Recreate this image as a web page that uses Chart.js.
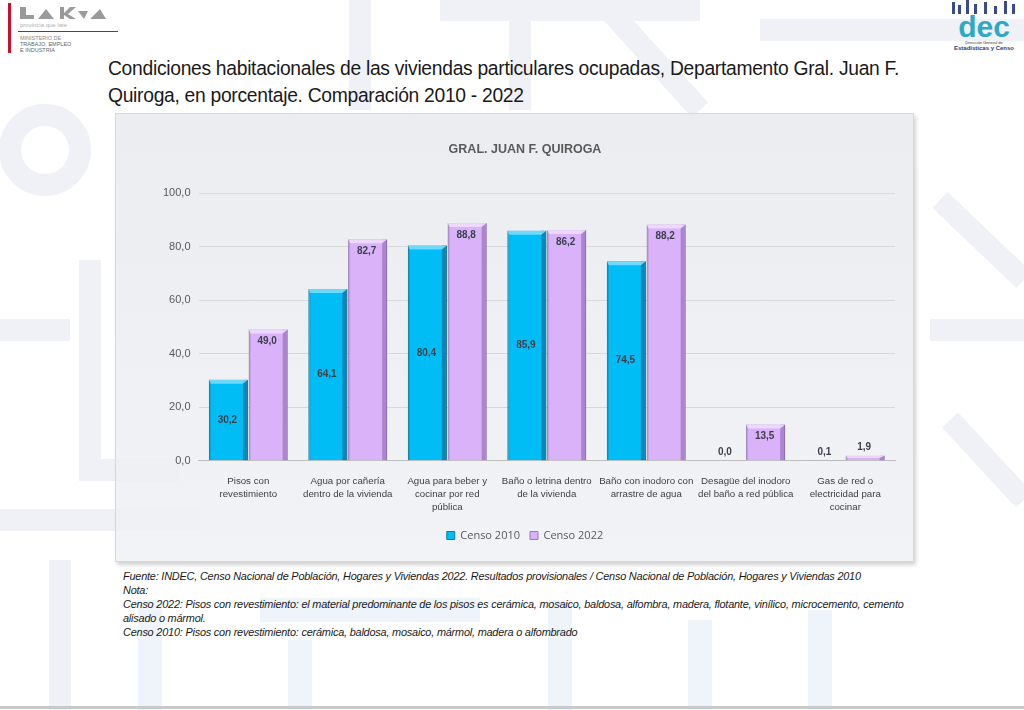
<!DOCTYPE html>
<html>
<head>
<meta charset="utf-8">
<script src="https://cdn.jsdelivr.net/npm/chart.js@4"></script>
<style>
  html, body { margin:0; padding:0; }
  body { width:1024px; height:710px; position:relative; overflow:hidden; background:#fff; font-family:"Liberation Sans", Arial, sans-serif; }
  #wm { position:absolute; left:0; top:0; }
  .title { position:absolute; left:108px; top:55px; font-size:19.3px; line-height:27px; color:#1a1a1a; letter-spacing:-0.3px; }
  #box { position:absolute; left:115px; top:113px; width:797px; height:447px;
         background:linear-gradient(180deg, rgba(232,234,238,0.88), rgba(240,241,244,0.88));
         border:1px solid #d6d8dc; box-shadow:2px 3px 4px rgba(0,0,0,0.18); }
  #box canvas { position:absolute; left:0; top:0; }
  .notes { position:absolute; left:123px; top:569px; font-size:10.9px; line-height:14px; font-style:italic; color:#1a1a1a; letter-spacing:-0.2px; }
  .logoL { position:absolute; left:8px; top:3px; }
  .logoR { position:absolute; left:944px; top:0px; text-align:center; }
  .bottomline { position:absolute; left:0; top:706px; width:1024px; height:3px; background:#c9c9c9; }
</style>
</head>
<body>
<svg id="wm" width="1024" height="710">
  <g fill="none" stroke="#f0f0f7" stroke-width="22">
    <circle cx="45" cy="150" r="35"/>
    <path d="M0 330 H70 M90 260 V470 H180 M0 520 H200 M60 560 V710"/>
    <path d="M360 0 V110 M520 0 V110 M440 10 H700"/>
    <path d="M600 0 L700 110 M760 30 L1024 30 M940 200 L1024 280"/>
    <path d="M930 330 H1024 M950 420 L1024 500"/>
  </g>
  <g fill="none" stroke="#eef4fa" stroke-width="24">
    <path d="M150 600 V710 M260 610 H480 M300 640 V710 M560 600 V710 M700 620 V710 M820 610 V710"/>
  </g>
</svg>

<div class="logoL">
  <svg width="120" height="52">
    <rect x="0" y="0" width="3" height="50" fill="#c8102e"/>
    <path d="M12 4 L18 4 L18 12 L26 12 L26 16 L12 16 Z" fill="#9a9a9a"/>
    <path d="M30 16 L38 6 L46 16 Z" fill="#9a9a9a"/>
    <path d="M52 4 L56 4 L56 10 L62 4 L68 4 L60 11 L68 16 L62 16 L56 12 L56 16 L52 16 Z" fill="#9a9a9a"/>
    <path d="M70 8 L80 8 L76 16 Z M82 16 L92 6 L98 16 Z" fill="#9a9a9a"/>
    <text x="12" y="24" font-size="6" fill="#b0b0b0">provincia que late</text>
    <rect x="10" y="28" width="100" height="1" fill="#c8102e"/>
    <text x="12" y="37" font-size="5.5" fill="#888">MINISTERIO DE</text>
    <text x="12" y="43" font-size="5.5" fill="#666">TRABAJO, EMPLEO</text>
    <text x="12" y="49" font-size="5.5" fill="#666">E INDUSTRIA</text>
  </svg>
</div>
<div class="logoR">
  <svg width="80" height="54">
    <g fill="#3a4a8a">
      <rect x="8" y="2" width="3" height="12"/><rect x="14" y="5" width="3" height="9"/>
      <rect x="22" y="0" width="3" height="14"/><rect x="30" y="4" width="3" height="10"/>
      <rect x="40" y="2" width="3" height="12"/><rect x="50" y="6" width="3" height="8"/>
      <rect x="60" y="1" width="3" height="13"/><rect x="68" y="4" width="3" height="10"/>
    </g>
    <text x="40" y="37" font-size="30" font-weight="bold" text-anchor="middle" fill="#2fa8c8" font-family="Liberation Sans">dec</text>
    <text x="40" y="44" font-size="4" text-anchor="middle" fill="#333">Dirección General de</text>
    <text x="40" y="50" font-size="6" font-weight="bold" text-anchor="middle" fill="#2d3a7a">Estadísticas y Censo</text>
  </svg>
</div>

<div class="title">Condiciones habitacionales de las viviendas particulares ocupadas, Departamento Gral. Juan F.<br>Quiroga, en porcentaje. Comparación 2010 - 2022</div>

<div id="box"><canvas id="chart" width="797" height="447"></canvas></div>

<div class="notes">
Fuente: INDEC, Censo Nacional de Población, Hogares y Viviendas 2022. Resultados provisionales / Censo Nacional de Población, Hogares y Viviendas 2010<br>
Nota:<br>
Censo 2022: Pisos con revestimiento: el material predominante de los pisos es cerámica, mosaico, baldosa, alfombra, madera, flotante, vinílico, microcemento, cemento<br>
alisado o mármol.<br>
Censo 2010: Pisos con revestimiento: cerámica, baldosa, mosaico, mármol, madera o alfombrado
</div>
<div class="bottomline"></div>

<script>
const categories = [
  ['Pisos con', 'revestimiento'],
  ['Agua por cañería', 'dentro de la vivienda'],
  ['Agua para beber y', 'cocinar por red', 'pública'],
  ['Baño o letrina dentro', 'de la vivienda'],
  ['Baño con inodoro con', 'arrastre de agua'],
  ['Desagüe del inodoro', 'del baño a red pública'],
  ['Gas de red o', 'electricidad para', 'cocinar']
];
const censo2010 = [30.2, 64.1, 80.4, 85.9, 74.5, 0.0, 0.1];
const censo2022 = [49.0, 82.7, 88.8, 86.2, 88.2, 13.5, 1.9];
const yTicks = [0, 20, 40, 60, 80, 100];

const fmt = v => v.toFixed(1).replace('.', ',');

// bevel + value labels drawn on top of bars
const barDecor = {
  id: 'barDecor',
  afterDatasetsDraw(chart) {
    const ctx = chart.ctx;
    chart.data.datasets.forEach((ds, di) => {
      const meta = chart.getDatasetMeta(di);
      meta.data.forEach((bar, i) => {
        const x0 = bar.x - bar.width / 2, x1 = bar.x + bar.width / 2;
        const top = bar.y, base = bar.base;
        const h = base - top;
        ctx.save();
        if (h > 1) {
          const bev = Math.min(4, h / 2);
          ctx.fillStyle = ds.bevelDark;
          ctx.fillRect(x1 - 5, top, 5, h);
          ctx.fillStyle = 'rgba(0,0,0,0.12)';
          ctx.fillRect(x0, top, 2, h);
          ctx.fillStyle = ds.bevelLight;
          ctx.beginPath();
          ctx.moveTo(x0, top); ctx.lineTo(x1, top);
          ctx.lineTo(x1 - 5, top + bev); ctx.lineTo(x0 + 2, top + bev);
          ctx.closePath(); ctx.fill();
        }
        ctx.font = 'bold 10px "Liberation Sans", Arial, sans-serif';
        ctx.fillStyle = '#3b3f4a';
        ctx.textAlign = 'center';
        ctx.textBaseline = 'middle';
        const v = ds.data[i];
        let ty;
        if (h < 22) ty = top - 8;
        else if (di === 0) ty = (top + base) / 2;
        else ty = top + 12;
        ctx.fillText(fmt(v), bar.x - 1, ty);
        ctx.restore();
      });
    });
  }
};

new Chart(document.getElementById('chart'), {
  type: 'bar',
  data: {
    labels: categories,
    datasets: [{
      label: 'Censo 2010',
      data: censo2010,
      backgroundColor: '#00bdf6',
      borderColor: '#0a7fa6',
      borderWidth: 1,
      bevelDark: 'rgba(0,70,110,0.45)',
      bevelLight: 'rgba(120,220,255,0.9)',
      categoryPercentage: 0.8,
      barPercentage: 0.98
    }, {
      label: 'Censo 2022',
      data: censo2022,
      backgroundColor: '#d9b2f9',
      borderColor: '#9c78c0',
      borderWidth: 1,
      bevelDark: 'rgba(90,50,130,0.35)',
      bevelLight: 'rgba(240,220,255,0.9)',
      categoryPercentage: 0.8,
      barPercentage: 0.98
    }]
  },
  options: {
    responsive: false,
    animation: false,
    layout: { padding: { left: 39, right: 18, top: 0, bottom: 10 } },
    plugins: {
      title: {
        display: true,
        text: 'GRAL. JUAN F. QUIROGA',
        color: '#595959',
        font: { size: 12.5, weight: 'bold', family: '"Liberation Sans", Arial, sans-serif' },
        padding: { top: 28, bottom: 36 }
      },
      legend: {
        position: 'bottom',
        labels: {
          boxWidth: 8, boxHeight: 8,
          color: '#595959',
          font: { size: 11, family: '"Open Sans", sans-serif' },
          padding: 10
        }
      },
      tooltip: { enabled: false }
    },
    scales: {
      y: {
        min: 0, max: 100,
        afterBuildTicks: axis => { axis.ticks = yTicks.map(v => ({ value: v })); },
        ticks: {
          callback: v => fmt(v),
          color: '#595959',
          font: { size: 11, family: '"Liberation Sans", Arial, sans-serif' },
          padding: 8
        },
        grid: { color: '#d9d9d9', drawTicks: false },
        border: { display: false }
      },
      x: {
        ticks: {
          color: '#404040',
          font: { size: 9.7, family: '"Liberation Sans", Arial, sans-serif', lineHeight: 1.35 },
          maxRotation: 0, autoSkip: false, padding: 6
        },
        grid: { display: false },
        border: { color: '#bfbfbf' }
      }
    }
  },
  plugins: [barDecor]
});
</script>
</body>
</html>
